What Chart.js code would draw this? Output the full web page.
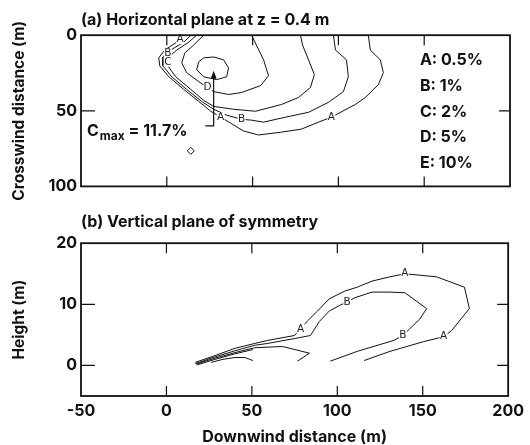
<!DOCTYPE html>
<html>
<head>
<meta charset="utf-8">
<script src="https://cdn.jsdelivr.net/npm/chart.js@4.4.1/dist/chart.umd.min.js"></script>
<style>
  body { margin: 0; background: #fff; }
  #wrap { position: relative; width: 530px; height: 445px; }
  #plan { position: absolute; left: 0; top: 0; }
  #vert { position: absolute; left: 0; top: 200px; }
</style>
</head>
<body>
<div id="wrap">
  <canvas id="plan" width="530" height="200" style="width:530px;height:200px"></canvas>
  <canvas id="vert" width="530" height="245" style="width:530px;height:245px"></canvas>
</div>
<script>
const xTicks = [-50, 0, 50, 100, 150, 200];
const yTicksPlan = [0, 50, 100];
const yTicksVert = [0, 10, 20];

// (a) horizontal plane at z = 0.4 m : [downwind, crosswind] (m)
const planA = [[9.9,0],[5.8,4.6],[-1.2,9.8],[-4.7,15.0],[-4.1,20.3],[1.2,27.5],[9.9,35.9],[18.6,43.8],[25.6,50.3],[31.4,54.2],[37.2,58.2],[44.8,63.4],[53.5,66.0],[66.9,64.1],[78.5,62.1],[88.4,57.5],[95.9,54.2],[109.9,45.8],[115.7,41.2],[123.3,32.7],[126.2,24.8],[124.4,16.3],[118.6,9.8],[117.4,0]];
const planB = [[14.0,0],[9.9,4.6],[2.3,9.8],[-2.3,14.4],[-2.3,20.3],[2.9,27.5],[11.6,35.9],[20.3,43.8],[27.3,49.0],[34.9,52.9],[43.6,55.6],[49.4,56.2],[56.4,57.5],[69.2,54.2],[82.6,51.0],[94.2,44.4],[102.9,37.3],[105.8,27.5],[104.7,16.3],[98.3,9.8],[97.1,0]];
const planC = [[17.4,0],[12.8,4.6],[5.8,9.8],[0.6,15.0],[0.6,20.3],[5.2,27.5],[14.0,35.9],[21.5,43.1],[27.3,47.1],[39.0,49.0],[51.7,50.3],[66.9,45.8],[76.7,41.2],[83.7,34.6],[86.0,26.1],[82.6,16.3],[79.1,6.5],[77.9,0]];
const planD = [[21.5,0],[15.7,6.5],[10.5,11.8],[8.7,18.3],[11.6,24.8],[18.6,30.7],[27.3,37.3],[36.0,39.2],[43.6,37.9],[54.7,33.3],[59.3,26.8],[56.4,16.3],[49.4,0]];
const planE = [[18.6,17.6],[21.5,15.0],[27.3,14.4],[33.1,16.3],[36.0,21.6],[34.9,27.5],[29.1,29.4],[21.5,27.5],[17.4,22.9],[18.6,17.6]];
const planPoint = [[14, 76.5]];

// (b) vertical plane of symmetry : [downwind, height] (m)
const vertA = [[16.9,0.5],[27.3,1.5],[40.1,2.8],[51.7,3.6],[59.3,4.1],[75.0,4.9],[78.5,6.0],[82.6,7.3],[88.4,8.9],[95.3,10.9],[104.7,12.2],[111.6,12.8],[120.3,13.8],[130.8,14.5],[139.5,15.0],[158.1,14.5],[174.4,12.8],[177.3,9.3],[166.9,5.7],[162.2,4.7],[150.6,3.9],[130.8,2.3],[115.7,0.8]];
const vertB = [[16.9,0.3],[27.3,1.3],[40.1,2.4],[51.7,3.3],[59.3,3.6],[75.0,4.4],[84.3,4.9],[89.5,7.2],[95.3,8.9],[101.2,9.8],[105.8,10.4],[110.5,11.1],[120.3,12.0],[130.8,12.0],[139.5,11.9],[152.3,9.3],[148.3,7.6],[142.4,6.0],[138.4,4.9],[133.1,4.1],[111.6,2.3],[95.9,0.7]];
const vertC = [[17.4,0.2],[27.3,1.1],[40.1,2.1],[51.7,2.9],[68.0,3.1],[83.7,2.0],[76.7,0.7]];
const vertD = [[18.0,0.1],[27.3,0.9],[40.1,1.9],[50.6,2.6]];
const vertE = [[26.2,0.5],[33.1,1.0],[40.1,1.3],[45.9,1.3],[50.6,0.8]];

// contour letters sitting on the lines
const planTags = [['A',7.7,2.6],['B',0.6,12.1],['C',0.6,17.6],['D',23.8,34.6],['A',31.4,54.2],['B',43.6,55.6],['A',95.9,54.2]];
const vertTags = [['A',78.5,6.0],['B',105.8,10.4],['A',139.5,15.0],['B',138.4,4.9],['A',162.2,4.7]];

const legendKeys = ['A', 'B', 'C', 'D', 'E'];
const legendVals = ['0.5%', '1%', '2%', '5%', '10%'];
const cmaxText = '11.7%';

Chart.defaults.font.family = 'Inter, "DejaVu Sans", sans-serif';
Chart.defaults.font.weight = 'bold';
Chart.defaults.color = '#111';

const tickFont = { size: 16, weight: 'bold' };
const axisTitleFont = { size: 15.5, weight: 'bold', lineHeight: 1 };
const panelTitleFont = { size: 16, weight: 'bold', lineHeight: 1.2 };

function contour(data) {
  return { data: data, showLine: true, borderColor: '#111', borderWidth: 1, pointRadius: 0, tension: 0, fill: false };
}

function fixTicks(vals) {
  return s => { s.ticks = vals.map(v => ({ value: v })); };
}

const frame = {
  id: 'frame',
  afterDatasetsDraw(chart, args, opts) {
    const { ctx, chartArea: a } = chart;
    const xs = chart.scales.x, ys = chart.scales.y;
    ctx.save();
    ctx.font = '10.5px "DejaVu Sans"';
    ctx.textAlign = 'center';
    ctx.textBaseline = 'middle';
    opts.tags.forEach(t => {
      const px = xs.getPixelForValue(t[1]), py = ys.getPixelForValue(t[2]);
      ctx.fillStyle = '#fff';
      ctx.fillRect(px - 4, py - 5, 8, 10);
      ctx.fillStyle = '#222';
      ctx.fillText(t[0], px, py);
    });
    ctx.strokeStyle = '#111';
    ctx.lineWidth = 1.8;
    ctx.strokeRect(a.left, a.top, a.right - a.left, a.bottom - a.top);
    // inward tick marks
    ctx.lineWidth = 1.2;
    ctx.beginPath();
    opts.xIn.forEach(v => {
      const px = xs.getPixelForValue(v);
      ctx.moveTo(px, a.top); ctx.lineTo(px, a.top + 10);
      ctx.moveTo(px, a.bottom); ctx.lineTo(px, a.bottom - 10);
    });
    opts.yIn.forEach(v => {
      const py = ys.getPixelForValue(v);
      ctx.moveTo(a.left, py); ctx.lineTo(a.left + 14, py);
      ctx.moveTo(a.right, py); ctx.lineTo(a.right - 11, py);
    });
    ctx.stroke();
    ctx.restore();
  }
};

const planNotes = {
  id: 'planNotes',
  afterDatasetsDraw(chart) {
    const ctx = chart.ctx;
    const xs = chart.scales.x, ys = chart.scales.y;
    ctx.save();
    ctx.fillStyle = '#111';
    ctx.font = 'bold 16px Inter';
    ctx.textAlign = 'left';
    ctx.textBaseline = 'middle';
    legendKeys.forEach((k, i) => {
      ctx.fillText(k + ': ' + legendVals[i], xs.getPixelForValue(147.5), ys.getPixelForValue(16.7 + i * 17));
    });

    // C max label and arrow
    let tx = xs.getPixelForValue(-46.5);
    const ty = ys.getPixelForValue(66.5);
    ctx.textBaseline = 'alphabetic';
    ctx.fillText('C', tx, ty);
    tx += ctx.measureText('C').width + 1;
    ctx.font = 'bold 12px Inter';
    ctx.fillText('max', tx, ty + 4);
    tx += ctx.measureText('max').width;
    ctx.font = 'bold 16px Inter';
    ctx.fillText(' = ' + cmaxText, tx, ty);

    const ax = xs.getPixelForValue(27.3);
    const ay0 = ys.getPixelForValue(60), ay1 = ys.getPixelForValue(23.5);
    ctx.strokeStyle = '#111';
    ctx.lineWidth = 1.2;
    ctx.beginPath();
    ctx.moveTo(xs.getPixelForValue(22.5), ay0);
    ctx.lineTo(ax, ay0);
    ctx.lineTo(ax, ay1 + 6);
    ctx.stroke();
    ctx.beginPath();
    ctx.moveTo(ax, ay1);
    ctx.lineTo(ax - 3, ay1 + 8);
    ctx.lineTo(ax + 3, ay1 + 8);
    ctx.closePath();
    ctx.fill();
    ctx.restore();
  }
};

new Chart(document.getElementById('plan'), {
  type: 'scatter',
  data: {
    datasets: [
      contour(planA), contour(planB), contour(planC), contour(planD), contour(planE),
      { data: planPoint, pointStyle: 'rectRot', pointRadius: 3.5, borderColor: '#111', backgroundColor: '#fff', borderWidth: 1 }
    ]
  },
  options: {
    responsive: false,
    animation: false,
    layout: { padding: { left: 12, right: 20, top: 0, bottom: 0 } },
    plugins: {
      legend: { display: false },
      tooltip: { enabled: false },
      title: { display: true, text: '(a) Horizontal plane at z = 0.4 m', align: 'start', fullSize: false, font: panelTitleFont, color: '#111', padding: { top: 11, bottom: 5 } },
      frame: { tags: planTags, xIn: [0, 50, 100, 150], yIn: [50] }
    },
    scales: {
      x: {
        type: 'linear', min: -50, max: 200,
        afterBuildTicks: fixTicks(xTicks),
        ticks: { display: false },
        grid: { display: false, drawTicks: false },
        border: { display: false },
        afterFit: s => { s.height = 12; }
      },
      y: {
        type: 'linear', reverse: true, min: 0, max: 100,
        afterBuildTicks: fixTicks(yTicksPlan),
        ticks: { font: tickFont, padding: 4, color: '#111' },
        grid: { display: false, drawTicks: false },
        border: { display: false },
        title: { display: true, text: 'Crosswind distance (m)', font: axisTitleFont, color: '#111', padding: 0 },
        afterFit: s => { s.width = 69; }
      }
    }
  },
  plugins: [frame, planNotes]
});

new Chart(document.getElementById('vert'), {
  type: 'scatter',
  data: {
    datasets: [contour(vertA), contour(vertB), contour(vertC), contour(vertD), contour(vertE)]
  },
  options: {
    responsive: false,
    animation: false,
    layout: { padding: { left: 12, right: 20, top: 0, bottom: 0 } },
    plugins: {
      legend: { display: false },
      tooltip: { enabled: false },
      title: { display: true, text: '(b) Vertical plane of symmetry', align: 'start', fullSize: false, font: panelTitleFont, color: '#111', padding: { top: 13, bottom: 11 } },
      frame: { tags: vertTags, xIn: [0, 50, 100, 150], yIn: [0, 10] }
    },
    scales: {
      x: {
        type: 'linear', min: -50, max: 200,
        afterBuildTicks: fixTicks(xTicks),
        ticks: { font: tickFont, padding: 6, color: '#111' },
        grid: { display: false, drawTicks: false },
        border: { display: false },
        title: { display: true, text: 'Downwind distance (m)', font: { size: 16, weight: 'bold', lineHeight: 1 }, color: '#111', padding: 0 },
        afterFit: s => { s.height = 49; }
      },
      y: {
        type: 'linear', min: -5, max: 20,
        afterBuildTicks: fixTicks(yTicksVert),
        ticks: { font: tickFont, padding: 4, color: '#111' },
        grid: { display: false, drawTicks: false },
        border: { display: false },
        title: { display: true, text: 'Height (m)', font: axisTitleFont, color: '#111', padding: 0 },
        afterFit: s => { s.width = 69; }
      }
    }
  },
  plugins: [frame]
});
</script>
</body>
</html>
